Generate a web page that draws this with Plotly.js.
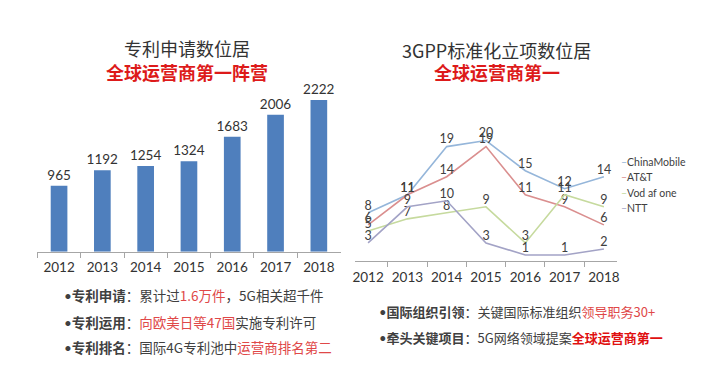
<!DOCTYPE html>
<html><head><meta charset="utf-8">
<script src="https://cdn.plot.ly/plotly-3.0.1.min.js"></script>
<style>html,body{margin:0;padding:0;background:#fff}#c{width:720px;height:365px}</style>
</head><body><div id="c"></div>
<script>
const years = ['2012','2013','2014','2015','2016','2017','2018'];
const patents = [965, 1192, 1254, 1324, 1683, 2006, 2222];
const chinaMobile = [8, 11, 19, 20, 15, 12, 14];
const att = [6, 11, 14, 19, 11, 9, 6];
const vodafone = [5, 7, 8, 9, 3, 11, 9];
const ntt = [3, 9, 10, 3, 1, 1, 2];
const seriesNames = ['ChinaMobile', 'AT&T', 'Vod af one', 'NTT'];
const seriesColors = ['#95b6da', '#da8f8f', '#c6da9e', '#a3a3c6'];

const W = 720, H = 365;
const px = v => v / W;
const py = v => 1 - v / H;
const FONT = 'Lato, "Noto Sans CJK SC", sans-serif';
const CJK = '"Noto Sans CJK SC", "Noto Sans", sans-serif';

const traces = [{
  type: 'bar', x: years, y: patents, xaxis: 'x', yaxis: 'y',
  marker: {color: '#4f7fbd'},
  text: patents.map(String), textposition: 'outside', cliponaxis: false, constraintext: 'none',
  textfont: {family: FONT, size: 13.5, color: '#333'},
  hoverinfo: 'skip', showlegend: false
}];
const lineData = [chinaMobile, att, vodafone, ntt];
lineData.forEach((d, i) => {
  traces.push({
    type: 'scatter', mode: 'lines+text', x: years, y: d, xaxis: 'x2', yaxis: 'y2',
    line: {color: seriesColors[i], width: 1.6},
    text: d.map(String), textposition: 'top center', cliponaxis: false,
    textfont: {family: FONT, size: 12.5, color: '#404040'},
    name: seriesNames[i], showlegend: false, hoverinfo: 'skip'
  });
});

const axisX = {
  type: 'category', showgrid: false, zeroline: false, tickangle: 0,
  showline: true, linecolor: '#a6a6a6', linewidth: 1,
  ticks: 'outside', tickson: 'boundaries', ticklen: 5, tickcolor: '#a6a6a6',
  tickfont: {family: FONT, size: 13.5, color: '#333'}
};

const anns = [];
function addText(x, y, text, size, color, anchor) {
  anns.push({xref: 'paper', yref: 'paper', x: px(x), y: py(y), text: text, showarrow: false,
    xanchor: anchor || 'center', yanchor: 'middle', font: {family: CJK, size: size, color: color}});
}
addText(187, 48, '专利申请数位居', 18, '#333');
addText(187, 72, '<b>全球运营商第一阵营</b>', 18, '#dd1a1a');
addText(496, 50, '3GPP标准化立项数位居', 18, '#333');
addText(497, 72, '<b>全球运营商第一</b>', 18, '#dd1a1a');

seriesNames.forEach((n, i) => {
  anns.push({xref: 'paper', yref: 'paper', x: px(619), y: py(162 + i * 15.3), xanchor: 'left', yanchor: 'middle',
    showarrow: false, text: '<span style="color:' + seriesColors[i] + '">–</span>' + n.replace('&', '&amp;'),
    font: {family: FONT, size: 10.5, color: '#404040'}});
});

const R1 = '#e04848';
const dot = '<span style="font-family:Lato">•</span>';
addText(62, 295, dot + '<b>专利申请</b>：累计过<span style="color:' + R1 + '">1.6万件</span>，5G相关超千件', 13.5, '#404040', 'left');
addText(62, 321.5, dot + '<b>专利运用</b>：<span style="color:' + R1 + '">向欧美日等47国</span>实施专利许可', 13.5, '#404040', 'left');
addText(62, 347, dot + '<b>专利排名</b>：国际4G专利池中<span style="color:' + R1 + '">运营商排名第二</span>', 13.5, '#404040', 'left');
addText(377, 311.5, dot + '<b>国际组织引领</b>：关键国际标准组织<span style="color:' + R1 + '">领导职务30+</span>', 13, '#404040', 'left');
addText(377, 337, dot + '<b>牵头关键项目</b>：5G网络领域提案<b><span style="color:#e01010">全球运营商第一</span></b>', 13, '#404040', 'left');

const layout = {
  width: W, height: H, margin: {l: 0, r: 0, t: 0, b: 0},
  paper_bgcolor: '#fff', plot_bgcolor: 'rgba(0,0,0,0)',
  showlegend: false, bargap: 0.615,
  xaxis: Object.assign({}, axisX, {domain: [px(37.4), px(340.5)], anchor: 'y', ticklabelstandoff: 3}),
  yaxis: {domain: [py(251.7), py(74.1)], range: [0, 2600], visible: false, anchor: 'x'},
  xaxis2: Object.assign({}, axisX, {domain: [px(355), px(617)], anchor: 'y2', ticklabelstandoff: 4}),
  yaxis2: {domain: [py(261), py(116.5)], range: [0, 24], visible: false, anchor: 'x2'},
  annotations: anns
};
Plotly.newPlot('c', traces, layout, {staticPlot: true, displayModeBar: false});
</script></body></html>
